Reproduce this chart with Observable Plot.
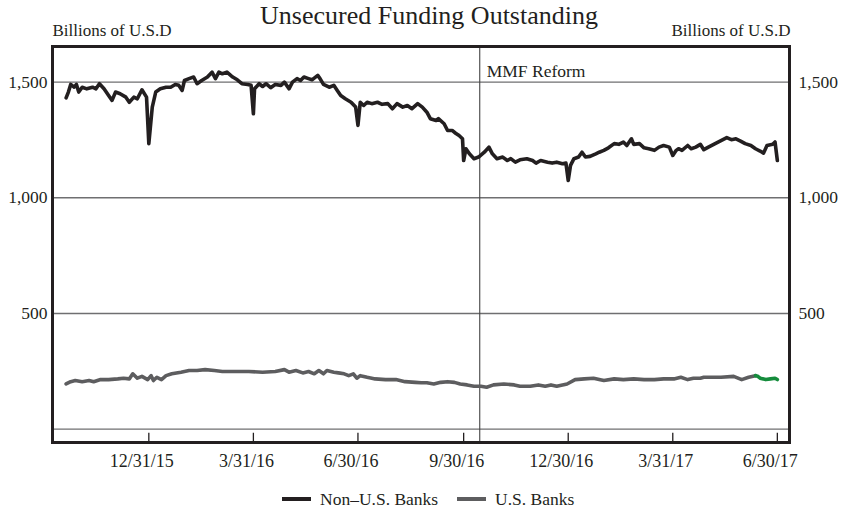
<!DOCTYPE html>
<html>
<head>
<meta charset="utf-8">
<script src="https://cdn.jsdelivr.net/npm/d3@7"></script>
<script src="https://cdn.jsdelivr.net/npm/@observablehq/plot@0.6"></script>
<style>
  body { margin: 0; background: #fff; font-family: "Liberation Serif", "DejaVu Serif", serif; }
  #chart { width: 847px; }
  .legend { position: relative; height: 36px; margin-top: 6px; font-size: 17.5px; color: #231f20; }
  .item { position: absolute; top: 0; display: flex; align-items: center; height: 36px; }
  .sw { display: inline-block; width: 29px; height: 4px; margin-right: 9px; }
</style>
</head>
<body>
<div id="chart"></div>
<script>
// ---- Data (billions of USD) ----
const nonUsDates = [
  "2015-10-20","2015-10-22","2015-10-24","2015-10-27","2015-10-29","2015-10-31","2015-11-03","2015-11-07",
  "2015-11-12","2015-11-15","2015-11-18","2015-11-22","2015-11-26","2015-11-29","2015-12-02","2015-12-06",
  "2015-12-11","2015-12-14","2015-12-18","2015-12-21","2015-12-25","2015-12-29","2015-12-31","2016-01-03",
  "2016-01-06","2016-01-10","2016-01-15","2016-01-19","2016-01-23","2016-01-26","2016-01-29","2016-01-31",
  "2016-02-04","2016-02-08","2016-02-11","2016-02-15","2016-02-20","2016-02-24","2016-02-27","2016-03-01",
  "2016-03-04","2016-03-08","2016-03-13","2016-03-17","2016-03-21","2016-03-26","2016-03-29","2016-03-31",
  "2016-04-01","2016-04-05","2016-04-08","2016-04-11","2016-04-15","2016-04-19","2016-04-24","2016-04-27",
  "2016-05-01","2016-05-04","2016-05-08","2016-05-11","2016-05-14","2016-05-18","2016-05-21","2016-05-26",
  "2016-05-28","2016-05-31","2016-06-05","2016-06-09","2016-06-12","2016-06-15","2016-06-19","2016-06-24",
  "2016-06-28","2016-06-30","2016-07-02","2016-07-05","2016-07-08","2016-07-12","2016-07-17","2016-07-21",
  "2016-07-26","2016-07-30","2016-08-03","2016-08-08","2016-08-12","2016-08-16","2016-08-21","2016-08-25",
  "2016-08-29","2016-09-01","2016-09-06","2016-09-08","2016-09-13","2016-09-16","2016-09-20","2016-09-23",
  "2016-09-26","2016-09-29","2016-09-30","2016-10-02","2016-10-05","2016-10-09","2016-10-13","2016-10-18",
  "2016-10-22","2016-10-25","2016-10-29","2016-11-03","2016-11-07","2016-11-10","2016-11-14","2016-11-18",
  "2016-11-24","2016-11-29","2016-12-02","2016-12-06","2016-12-12","2016-12-16","2016-12-20","2016-12-25",
  "2016-12-28","2016-12-30","2017-01-01","2017-01-04","2017-01-08","2017-01-11","2017-01-14","2017-01-18",
  "2017-01-23","2017-01-26","2017-01-30","2017-02-03","2017-02-08","2017-02-12","2017-02-16","2017-02-19",
  "2017-02-23","2017-02-25","2017-03-02","2017-03-06","2017-03-10","2017-03-15","2017-03-19","2017-03-23",
  "2017-03-28","2017-03-31","2017-04-03","2017-04-05","2017-04-08","2017-04-13","2017-04-16","2017-04-20",
  "2017-04-24","2017-04-27","2017-05-01","2017-05-17","2017-05-21","2017-05-25","2017-05-29","2017-06-02",
  "2017-06-07","2017-06-11","2017-06-15","2017-06-18","2017-06-21","2017-06-26","2017-06-28","2017-06-30"
];
const nonUsValues = [
  1432,1457,1490,1478,1490,1457,1478,1471,
  1478,1471,1493,1471,1442,1421,1457,1450,
  1435,1413,1435,1428,1467,1435,1234,1392,
  1457,1471,1478,1478,1490,1486,1464,1507,
  1515,1522,1493,1507,1522,1543,1515,1543,
  1536,1543,1522,1510,1493,1490,1486,1363,
  1471,1493,1481,1493,1476,1490,1486,1500,
  1471,1500,1515,1507,1522,1515,1510,1529,
  1515,1490,1478,1486,1464,1442,1428,1413,
  1392,1313,1413,1399,1413,1407,1413,1404,
  1407,1385,1407,1392,1399,1385,1407,1392,
  1370,1342,1334,1342,1320,1291,1291,1279,
  1269,1255,1161,1212,1190,1169,1176,1197,
  1219,1190,1169,1176,1161,1169,1154,1164,
  1169,1161,1150,1161,1154,1150,1154,1147,
  1150,1075,1140,1169,1176,1197,1176,1179,
  1190,1197,1205,1216,1234,1231,1241,1226,
  1255,1231,1234,1216,1212,1205,1219,1226,
  1219,1183,1205,1212,1205,1226,1212,1219,
  1231,1208,1219,1260,1251,1255,1245,1234,
  1226,1212,1202,1193,1226,1231,1241,1161
];

const usDates = [
  "2015-10-20","2015-10-24","2015-10-28","2015-11-03","2015-11-09","2015-11-13","2015-11-19","2015-11-26",
  "2015-12-04","2015-12-09","2015-12-14","2015-12-17","2015-12-21","2015-12-25","2015-12-30","2016-01-02",
  "2016-01-04","2016-01-07","2016-01-11","2016-01-15","2016-01-20","2016-01-28","2016-02-04","2016-02-11",
  "2016-02-18","2016-02-26","2016-03-04","2016-03-16","2016-03-27","2016-04-08","2016-04-19","2016-04-27",
  "2016-05-01","2016-05-07","2016-05-13","2016-05-18","2016-05-23","2016-05-27","2016-05-31","2016-06-03",
  "2016-06-09","2016-06-13","2016-06-18","2016-06-22","2016-06-26","2016-06-29","2016-07-02","2016-07-08",
  "2016-07-15","2016-07-24","2016-08-02","2016-08-10","2016-08-19","2016-08-24","2016-08-29","2016-09-04",
  "2016-09-10","2016-09-16","2016-09-22","2016-09-27","2016-10-03","2016-10-09","2016-10-15","2016-10-20",
  "2016-10-26","2016-11-04","2016-11-13","2016-11-18","2016-11-27","2016-12-04","2016-12-10","2016-12-15",
  "2016-12-20","2016-12-29","2017-01-05","2017-01-13","2017-01-21","2017-01-30","2017-02-08","2017-02-16",
  "2017-02-25","2017-03-06","2017-03-15","2017-03-23","2017-04-01","2017-04-07","2017-04-13","2017-04-18",
  "2017-04-24","2017-04-27","2017-05-12","2017-05-23","2017-05-30","2017-06-05","2017-06-11"
];
const usValues = [
  195,205,210,205,210,205,214,214,
  217,220,217,239,220,228,214,231,
  210,224,214,231,239,246,253,253,
  257,253,249,249,249,246,249,257,
  246,253,243,249,239,253,239,253,
  246,243,239,231,239,220,231,224,
  217,214,214,205,202,200,200,195,
  202,205,202,195,191,185,185,181,
  191,195,191,185,185,191,185,191,
  185,195,214,217,220,210,217,214,
  217,214,214,217,217,224,214,220,
  220,224,224,228,214,224,231
];

// most recent U.S. bank observations (green segment)
const recentDates = ["2017-06-11","2017-06-13","2017-06-15","2017-06-20","2017-06-24","2017-06-28","2017-06-30"];
const recentValues = [231,228,220,214,217,220,214];

const xTickDates = ["2015-12-31","2016-03-31","2016-06-30","2016-09-30","2016-12-30","2017-03-31","2017-06-30"];
const xTickLabels = ["12/31/15","3/31/16","6/30/16","9/30/16","12/30/16","3/31/17","6/30/17"];
const yTicks = [500, 1000, 1500];
const gridValues = [0, 500, 1000, 1500];
const mmfDate = "2016-10-14";
const mmfLabel = "MMF Reform";
const titleText = "Unsecured Funding Outstanding";
const unitText = "Billions of U.S.D";
const seriesNames = ["Non\u2013U.S. Banks", "U.S. Banks"];

// ---- Build ----
const parse = d3.utcParse("%Y-%m-%d");
const nonUs = nonUsDates.map((d, i) => ({date: parse(d), value: nonUsValues[i]}));
const us = usDates.map((d, i) => ({date: parse(d), value: usValues[i]}));
const recent = recentDates.map((d, i) => ({date: parse(d), value: recentValues[i]}));
const xTicks = xTickDates.map(parse);
const labelMap = new Map(xTicks.map((d, i) => [+d, xTickLabels[i]]));
const mmf = parse(mmfDate);

const yMin = -58, yMax = 1654;
const tickTop = -18;
const FONT = "Liberation Serif";
const BLACK = "#231f20", GRAY = "#5d5d5f", GREEN = "#158c3c";

const chart = Plot.plot({
  width: 847,
  height: 475,
  marginLeft: 52,
  marginRight: 58,
  marginTop: 46,
  marginBottom: 33,
  style: {fontFamily: FONT, color: BLACK, background: "#fff", overflow: "visible"},
  x: {type: "utc", domain: [new Date(Date.UTC(2015, 9, 8, 4)), new Date(Date.UTC(2017, 6, 10, 14))]},
  y: {domain: [yMin, yMax]},
  marks: [
    Plot.ruleY(gridValues, {stroke: "#6f6f71", strokeWidth: 1.4}),
    Plot.ruleX([mmf], {y1: yMin, y2: yMax, stroke: "#444", strokeWidth: 1.1}),
    Plot.ruleX(xTicks, {y1: yMin, y2: tickTop, stroke: BLACK, strokeWidth: 1.3}),
    Plot.line(us, {x: "date", y: "value", stroke: GRAY, strokeWidth: 3.6, strokeLinejoin: "round", strokeLinecap: "round"}),
    Plot.line(recent, {x: "date", y: "value", stroke: GREEN, strokeWidth: 3.6, strokeLinejoin: "round", strokeLinecap: "round"}),
    Plot.line(nonUs, {x: "date", y: "value", stroke: BLACK, strokeWidth: 3.6, strokeLinejoin: "round", strokeLinecap: "round"}),
    Plot.text([mmfLabel], {x: [mmf], y: [1548], textAnchor: "start", dx: 7, fontSize: 17.5, fill: BLACK}),
    Plot.axisY(yTicks, {anchor: "left", tickSize: 0, tickPadding: 5, tickFormat: d3.format(","), fontSize: 17.5, label: null, fill: BLACK}),
    Plot.axisY(yTicks, {anchor: "right", tickSize: 0, tickPadding: 9, tickFormat: d3.format(","), fontSize: 17.5, label: null, fill: BLACK}),
    Plot.axisX(xTicks, {anchor: "bottom", tickSize: 0, tickPadding: 12, dx: -7, tickFormat: d => labelMap.get(+d), fontSize: 18, label: null, fill: BLACK}),
    Plot.frame({stroke: BLACK, strokeWidth: 3}),
    Plot.text([titleText], {frameAnchor: "top", lineAnchor: "top", dx: 8, dy: -41, fontSize: 26, fill: BLACK}),
    Plot.text([unitText], {frameAnchor: "top-left", lineAnchor: "top", textAnchor: "start", dy: -23, fontSize: 17, fill: BLACK}),
    Plot.text([unitText], {frameAnchor: "top-right", lineAnchor: "top", textAnchor: "end", dx: 1, dy: -23, fontSize: 17, fill: BLACK})
  ]
});
document.getElementById("chart").appendChild(chart);

// ---- Legend ----
const legend = document.createElement("div");
legend.className = "legend";
const items = [
  {name: seriesNames[0], color: BLACK, left: 282},
  {name: seriesNames[1], color: GRAY, left: 457}
];
for (const it of items) {
  const el = document.createElement("div");
  el.className = "item";
  el.style.left = it.left + "px";
  const sw = document.createElement("span");
  sw.className = "sw";
  sw.style.background = it.color;
  const tx = document.createElement("span");
  tx.textContent = it.name;
  el.appendChild(sw);
  el.appendChild(tx);
  legend.appendChild(el);
}
document.getElementById("chart").appendChild(legend);
</script>
</body>
</html>
